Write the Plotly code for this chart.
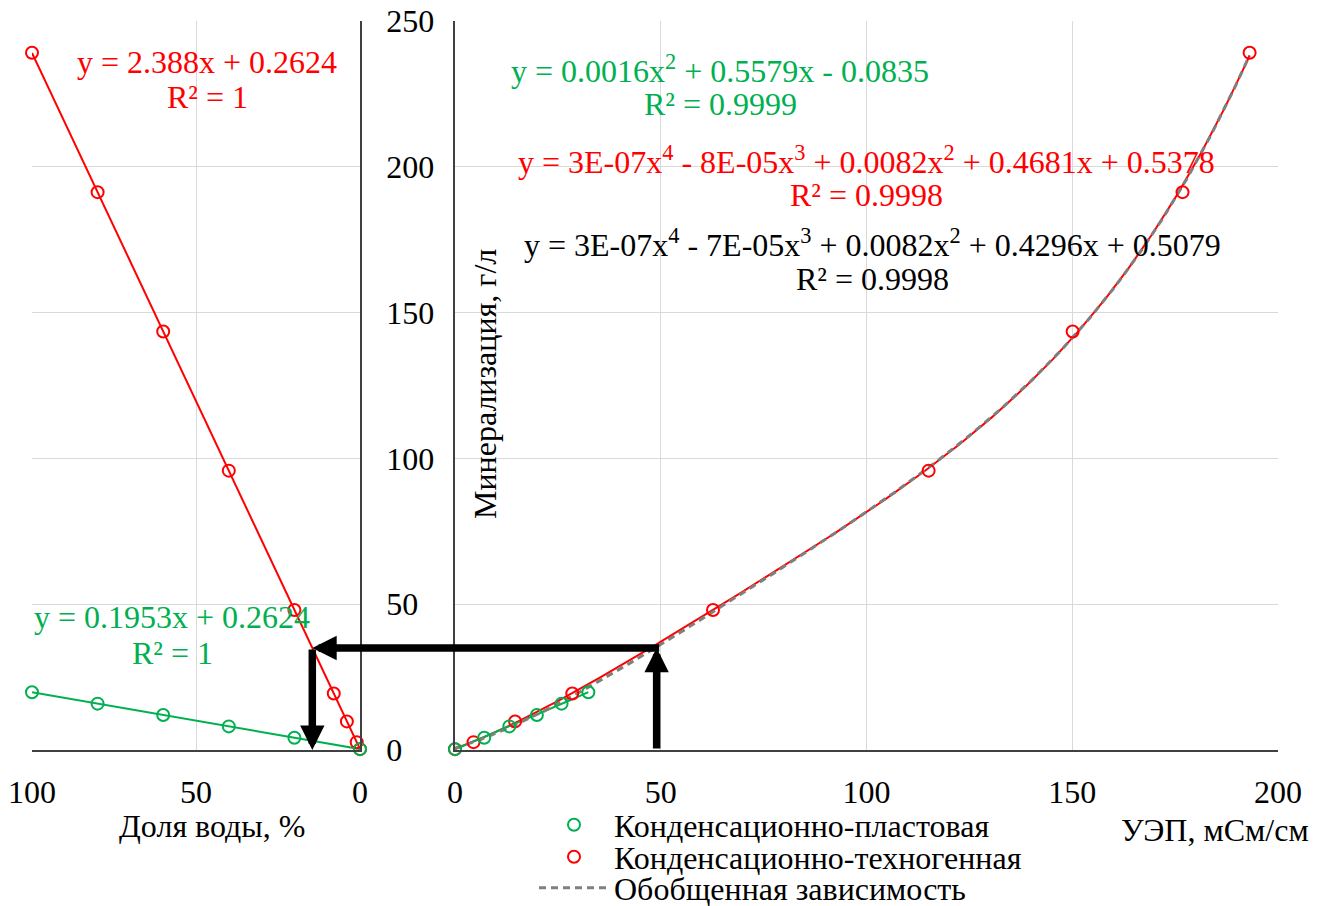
import numpy as np
import plotly.graph_objects as go

# ---------------- data ----------------
# Condensation-technogenic water: water share (%), mineralization (g/l), EC (mS/cm)
water_share_ct = [100, 80, 60, 40, 20, 8, 4, 1, 0]
tds_ct = [239.1, 191.3, 143.5, 95.8, 48.0, 19.4, 9.8, 2.7, 0.3]
ec_ct = [193.1, 176.8, 150.1, 115.1, 62.7, 28.5, 14.6, 4.5, 0.0]

# Condensation-formation water
water_share_cp = [100, 80, 60, 40, 20, 0]
tds_cp = [19.8, 15.9, 12.0, 8.1, 4.2, 0.3]
ec_cp = [32.4, 25.9, 19.9, 13.2, 7.1, 0.0]

# Worked example: measured EC -> mineralization -> water share
ec_reading = 49
tds_reading = 35

x_left_ticks = [100, 50, 0]
x_right_ticks = [0, 50, 100, 150, 200]
y_ticks = [0, 50, 100, 150, 200, 250]

eq_ct_left = ["y = 2.388x + 0.2624", "R² = 1"]
eq_cp_left = ["y = 0.1953x + 0.2624", "R² = 1"]
eq_cp_right = ["y = 0.0016x<sup>2</sup> + 0.5579x - 0.0835", "R² = 0.9999"]
eq_ct_right = ["y = 3E-07x<sup>4</sup> - 8E-05x<sup>3</sup> + 0.0082x<sup>2</sup> + 0.4681x + 0.5378",
               "R² = 0.9998"]
eq_all_right = ["y = 3E-07x<sup>4</sup> - 7E-05x<sup>3</sup> + 0.0082x<sup>2</sup> + 0.4296x + 0.5079",
                "R² = 0.9998"]

name_cp = "Конденсационно-пластовая"
name_ct = "Конденсационно-техногенная"
name_all = "Обобщенная зависимость"

# ---------------- styling / layout geometry ----------------
RED = "#ff0000"
GREEN = "#00b050"
GREY = "#7f7f7f"
AXIS = "#404040"
GRID = "#d9d9d9"
FONT = "Liberation Serif"
FS = 32

W, H = 1328, 906
M = dict(l=32, r=50, t=21, b=156, autoexpand=False)
PW = W - M["l"] - M["r"]
PH = H - M["t"] - M["b"]
LEFT_DOM = [0.0, 328 / PW]
RIGHT_DOM = [423 / PW, 1.0]
X_LEFT_RANGE = [100, 0]
X_RIGHT_RANGE = [0, 200]
Y_RANGE = [0, 250]


def px_x(px):
    return (px - M["l"]) / PW


def px_y(py):
    return (H - M["b"] - py) / PH


def left_px(v):
    frac = (v - X_LEFT_RANGE[0]) / (X_LEFT_RANGE[1] - X_LEFT_RANGE[0])
    return M["l"] + PW * (LEFT_DOM[0] + (LEFT_DOM[1] - LEFT_DOM[0]) * frac)


def right_px(v):
    frac = (v - X_RIGHT_RANGE[0]) / (X_RIGHT_RANGE[1] - X_RIGHT_RANGE[0])
    return M["l"] + PW * (RIGHT_DOM[0] + (RIGHT_DOM[1] - RIGHT_DOM[0]) * frac)


def trend(x, y, deg, n=300):
    coef = np.polyfit(x, y, deg)
    xs = np.linspace(min(x), max(x), n)
    return xs, np.polyval(coef, xs), coef


fig = go.Figure()

# ---------------- left panel: mineralization vs water share ----------------
xs, ys, lin_ct = trend(water_share_ct, tds_ct, 1)
fig.add_trace(go.Scatter(x=xs, y=ys, mode="lines", line=dict(color=RED, width=2),
                         showlegend=False, hoverinfo="skip", xaxis="x", yaxis="y"))
xs, ys, _ = trend(water_share_cp, tds_cp, 1)
fig.add_trace(go.Scatter(x=xs, y=ys, mode="lines", line=dict(color=GREEN, width=2),
                         showlegend=False, hoverinfo="skip", xaxis="x", yaxis="y"))
fig.add_trace(go.Scatter(x=water_share_ct, y=tds_ct, mode="markers",
                         marker=dict(symbol="circle-open", size=12, color=RED, line=dict(width=2)),
                         showlegend=False, xaxis="x", yaxis="y", cliponaxis=False))
fig.add_trace(go.Scatter(x=water_share_cp, y=tds_cp, mode="markers",
                         marker=dict(symbol="circle-open", size=12, color=GREEN, line=dict(width=2)),
                         showlegend=False, xaxis="x", yaxis="y", cliponaxis=False))

# ---------------- right panel: mineralization vs EC ----------------
xs, ys, _ = trend(ec_ct, tds_ct, 4)
fig.add_trace(go.Scatter(x=xs, y=ys, mode="lines", line=dict(color=RED, width=2),
                         showlegend=False, xaxis="x2", yaxis="y2", hoverinfo="skip"))
xs, ys, _ = trend(ec_cp, tds_cp, 2)
fig.add_trace(go.Scatter(x=xs, y=ys, mode="lines", line=dict(color=GREEN, width=2),
                         showlegend=False, xaxis="x2", yaxis="y2", hoverinfo="skip"))
# generalized trend over both water types, dashed on top of the individual fits
xs, ys, _ = trend(ec_cp + ec_ct, tds_cp + tds_ct, 4)
fig.add_trace(go.Scatter(x=xs, y=ys, mode="lines", name=name_all,
                         line=dict(color=GREY, width=3, dash="7px,5px"),
                         legend="legend3", xaxis="x2", yaxis="y2", hoverinfo="skip"))
fig.add_trace(go.Scatter(x=ec_ct, y=tds_ct, mode="markers", name=name_ct,
                         marker=dict(symbol="circle-open", size=12, color=RED, line=dict(width=2)),
                         legend="legend2", xaxis="x2", yaxis="y2", cliponaxis=False))
fig.add_trace(go.Scatter(x=ec_cp, y=tds_cp, mode="markers", name=name_cp,
                         marker=dict(symbol="circle-open", size=12, color=GREEN, line=dict(width=2)),
                         legend="legend", xaxis="x2", yaxis="y2", cliponaxis=False))

# ---------------- axes ----------------
tick_font = dict(family=FONT, size=FS, color="#000000")
common_x = dict(showgrid=True, gridcolor=GRID, gridwidth=1, zeroline=False, showline=True,
                linecolor=AXIS, linewidth=1.5, ticks="", tickfont=tick_font, ticklabelstandoff=13)
common_y = dict(range=Y_RANGE, tickvals=y_ticks, showgrid=True, gridcolor=GRID, gridwidth=1,
                zeroline=False, showline=True, linecolor=AXIS, linewidth=1.5, ticks="",
                tickfont=tick_font, domain=[0, 1])

fig.update_layout(
    xaxis=dict(domain=LEFT_DOM, range=X_LEFT_RANGE, tickvals=x_left_ticks, anchor="y", **common_x),
    yaxis=dict(side="right", anchor="x", ticklabelstandoff=18, **common_y),
    xaxis2=dict(domain=RIGHT_DOM, range=X_RIGHT_RANGE, tickvals=x_right_ticks, anchor="y2", **common_x),
    yaxis2=dict(anchor="x2", showticklabels=False, **common_y),
)

# ---------------- annotations ----------------
ann = []


def text(px, py, s, color="#000000", size=FS, angle=0):
    ann.append(dict(x=px_x(px), y=px_y(py), xref="paper", yref="paper", text=s, showarrow=False,
                    xanchor="center", yanchor="middle", textangle=angle,
                    font=dict(family=FONT, size=size, color=color)))


text(207, 62, eq_ct_left[0], RED)
text(207, 97, eq_ct_left[1], RED)
text(172, 617, eq_cp_left[0], GREEN)
text(172, 653, eq_cp_left[1], GREEN)
text(720, 69, eq_cp_right[0], GREEN)
text(720, 104, eq_cp_right[1], GREEN)
text(866, 160, eq_ct_right[0], RED)
text(866, 195, eq_ct_right[1], RED)
text(872, 243, eq_all_right[0])
text(872, 279, eq_all_right[1])
text(485, 384, "Минерализация, г/л", angle=-90)
text(212, 826, "Доля воды, %")
text(1215, 830, "УЭП, мСм/см")

# worked-example arrows: EC -> mineralization -> water share
water_reading = (tds_reading - lin_ct[1]) / lin_ct[0]
arrow = dict(showarrow=True, text="", arrowhead=2, arrowsize=0.65, arrowwidth=7.5,
             arrowcolor="#000000", standoff=0)
ann.append(dict(x=ec_reading, y=tds_reading, xref="x2", yref="y2",
                ax=ec_reading, ay=0, axref="x2", ayref="y2", **arrow))
ann.append(dict(x=water_reading, y=tds_reading, xref="x", yref="y",
                ax=right_px(ec_reading) - left_px(water_reading) + 4, ay=0,
                axref="pixel", ayref="pixel", **arrow))
ann.append(dict(x=water_reading, y=0, xref="x", yref="y",
                ax=water_reading, ay=tds_reading, axref="x", ayref="y", **arrow))

leg_common = dict(xanchor="left", yanchor="middle", bgcolor="rgba(0,0,0,0)",
                  font=dict(family=FONT, size=FS, color="#000000"), itemwidth=70)
fig.update_layout(
    annotations=ann,
    width=W, height=H, margin=M,
    paper_bgcolor="white", plot_bgcolor="white",
    legend=dict(x=px_x(534), y=px_y(825), **leg_common),
    legend2=dict(x=px_x(534), y=px_y(857), **leg_common),
    legend3=dict(x=px_x(534), y=px_y(888), **leg_common),
)

fig.write_html("out.html")
